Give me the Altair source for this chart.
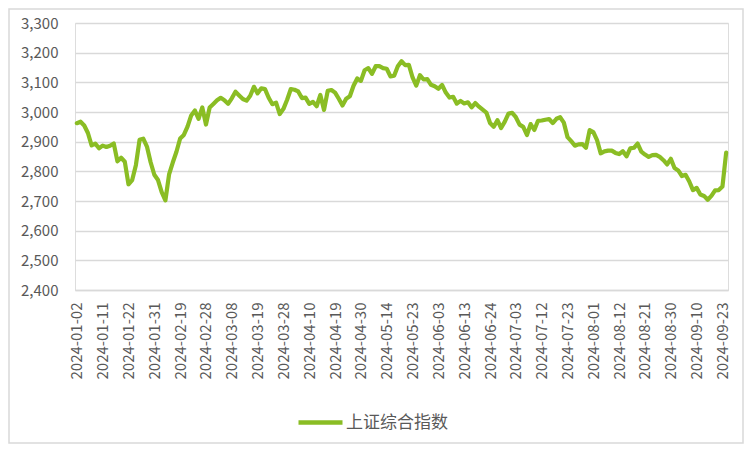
import altair as alt
import pandas as pd

series_name = "上证综合指数"

# trading days (2024) per month
jan_days = [2,3,4,5,8,9,10,11,12,15,16,17,18,19,22,23,24,25,26,29,30,31]
feb_days = [1,2,5,6,7,8,19,20,21,22,23,26,27,28,29]
mar_days = [1,4,5,6,7,8,11,12,13,14,15,18,19,20,21,22,25,26,27,28,29]
apr_days = [1,2,3,8,9,10,11,12,15,16,17,18,19,22,23,24,25,26,29,30]
may_days = [6,7,8,9,10,13,14,15,16,17,20,21,22,23,24,27,28,29,30,31]
jun_days = [3,4,5,6,7,11,12,13,14,17,18,19,20,21,24,25,26,27,28]
jul_days = [1,2,3,4,5,8,9,10,11,12,15,16,17,18,19,22,23,24,25,26,29,30,31]
aug_days = [1,2,5,6,7,8,9,12,13,14,15,16,19,20,21,22,23,26,27,28,29,30]
sep_days = [2,3,4,5,6,9,10,11,12,13,18,19,20,23,24]

jan_vals = [2962.28,2967.25,2954.35,2929.18,2887.54,2893.25,2877.70,2886.65,2881.98,2886.29,2893.99,
            2833.62,2845.78,2832.28,2756.34,2770.74,2820.77,2906.11,2910.22,2883.36,2830.53,2788.55]
feb_vals = [2770.74,2730.15,2702.19,2789.49,2829.70,2865.90,2910.54,2922.73,2950.96,2988.36,3004.88,
            2977.02,3015.48,2957.85,3015.17]
mar_vals = [3027.02,3039.31,3047.79,3039.93,3027.40,3046.02,3068.46,3055.94,3043.83,3038.23,3054.64,
            3084.93,3062.76,3079.69,3077.11,3048.03,3026.31,3031.48,2993.14,3010.66,3041.17]
apr_vals = [3077.38,3074.96,3069.30,3047.05,3048.54,3027.34,3034.25,3019.47,3057.38,3007.07,3071.38,
            3074.22,3065.26,3044.60,3021.98,3044.82,3052.90,3088.64,3113.04,3104.82]
may_vals = [3140.72,3147.74,3128.48,3154.32,3154.55,3148.02,3145.77,3119.90,3122.40,3154.03,3171.15,
            3157.97,3158.54,3116.39,3088.87,3124.04,3109.57,3111.02,3091.68,3086.81]
jun_vals = [3078.49,3091.20,3065.40,3048.79,3051.28,3028.05,3037.47,3028.92,3032.63,3015.89,3030.25,
            3018.05,3007.88,2998.14,2963.10,2950.00,2972.53,2945.85,2967.40]
jul_vals = [2994.73,2997.01,2982.38,2957.57,2949.93,2922.45,2959.37,2939.36,2970.39,2971.30,2974.01,
            2976.30,2962.70,2977.13,2982.31,2964.22,2915.37,2901.95,2886.43,2890.90,2891.85,2879.30,2938.75]
aug_vals = [2932.39,2905.34,2860.70,2867.28,2869.90,2869.83,2862.19,2858.20,2867.95,2850.65,2877.36,
            2879.43,2893.67,2866.66,2856.58,2848.77,2854.37,2855.52,2848.73,2837.43,2823.11,2842.21]
sep_vals = [2811.04,2802.98,2784.28,2788.31,2765.81,2736.49,2744.19,2721.80,2717.12,2704.09,2717.28,
            2736.02,2736.81,2748.92,2863.13]

y_ticks = [2400, 2500, 2600, 2700, 2800, 2900, 3000, 3100, 3200, 3300]

months = [(1, jan_days, jan_vals), (2, feb_days, feb_vals), (3, mar_days, mar_vals),
          (4, apr_days, apr_vals), (5, may_days, may_vals), (6, jun_days, jun_vals),
          (7, jul_days, jul_vals), (8, aug_days, aug_vals), (9, sep_days, sep_vals)]
dates, values = [], []
for m, days, vals in months:
    for d, v in zip(days, vals):
        dates.append(f"2024-{m:02d}-{d:02d}")
        values.append(v)

df = pd.DataFrame({"date": dates, "value": values, "series": series_name})
x_labels = dates[::7]

W, H = 653, 267
PL, PT = 67, 15
PR = 736 - PL - W
PB = 436 - PT - H

FONT = "Noto Sans CJK SC"
TXT = "#595959"
GRID = "#d9d9d9"
GREEN = "#8abd24"

line = alt.Chart(df).mark_line(strokeWidth=4.2, strokeJoin="round", strokeCap="round").encode(
    x=alt.X("date:O", sort=None,
            scale=alt.Scale(type="point", padding=0.5),
            axis=alt.Axis(values=x_labels, title=None, labelAngle=270, labelFontSize=15,
                          labelColor=TXT, labelFont=FONT, ticks=False, tickSize=0,
                          labelPadding=12, domainColor=GRID, domainWidth=1.5,
                          labelOverlap=False, grid=False)),
    y=alt.Y("value:Q", scale=alt.Scale(domain=[2400, 3300], nice=False, zero=False),
            axis=alt.Axis(values=y_ticks, format=",.0f", title=None, labelFontSize=15,
                          labelColor=TXT, labelFont=FONT, ticks=False, tickSize=0,
                          labelPadding=17, domain=False, gridColor=GRID, gridWidth=1.5)),
    color=alt.Color("series:N", scale=alt.Scale(range=[GREEN]),
                    legend=alt.Legend(title=None, orient="none", legendX=221, legendY=375,
                                      symbolType="stroke", symbolSize=1936, symbolStrokeWidth=4.5,
                                      labelFontSize=17, labelColor=TXT, labelFont=FONT,
                                      labelOffset=1)),
)

frame = alt.Chart(pd.DataFrame({"a": [0]})).mark_rect(fill=None, stroke=GRID, strokeWidth=1.5).encode(
    x=alt.value(-PL + 1), x2=alt.value(W + PR - 1),
    y=alt.value(-PT + 1), y2=alt.value(H + PB - 1),
)

chart = alt.layer(frame, line).properties(
    width=W, height=H,
    autosize=alt.AutoSizeParams(type="none"),
    padding={"left": PL, "top": PT, "right": PR, "bottom": PB},
).configure_view(stroke=None).configure(background="white")

chart.save("out.html", embed_options={"renderer": "svg", "actions": False})
